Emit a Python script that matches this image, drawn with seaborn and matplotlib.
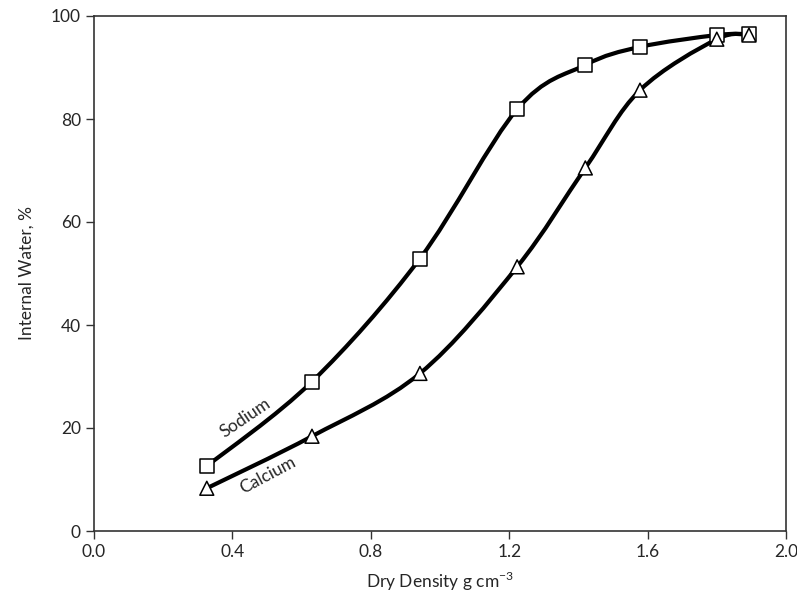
import numpy as np
import pandas as pd
import matplotlib
matplotlib.use("Agg")
import matplotlib.pyplot as plt
from matplotlib.path import Path
from matplotlib.patches import PathPatch
import seaborn as sns

density = [0.326, 0.63, 0.942, 1.223, 1.42, 1.578, 1.80, 1.893]
sodium = [12.6, 29.0, 52.9, 81.9, 90.5, 94.0, 96.3, 96.5]
calcium = [8.3, 18.4, 30.6, 51.3, 70.5, 85.6, 95.5, 96.3]
x_ticks = [0.0, 0.4, 0.8, 1.2, 1.6, 2.0]
y_ticks = [0, 20, 40, 60, 80, 100]

sns.set_style("ticks")
plt.rcParams['font.family'] = ['Lato', 'DejaVu Sans']
plt.rcParams['mathtext.fontset'] = 'custom'
plt.rcParams['mathtext.rm'] = 'Lato'

fig = plt.figure(figsize=(7.97, 6.0), dpi=100)
ax = fig.add_axes([94/797, 1-531/600, (786-94)/797, (531-16)/600])

def smooth_path(xs, ys, sx=2.0, sy=100.0):
    # Catmull-Rom converted to cubic Bezier in normalised space
    P = np.column_stack([np.asarray(xs)/sx, np.asarray(ys)/sy])
    n = len(P)
    verts = [tuple(P[0])]
    codes = [Path.MOVETO]
    T = np.zeros_like(P)
    for i in range(n):
        a = P[max(i-1, 0)]
        b = P[min(i+1, n-1)]
        T[i] = (b - a) / 2.0
    for i in range(n-1):
        c1 = P[i] + T[i]/3.0
        c2 = P[i+1] - T[i+1]/3.0
        verts += [tuple(c1), tuple(c2), tuple(P[i+1])]
        codes += [Path.CURVE4]*3
    V = np.array(verts)
    V[:, 0] *= sx
    V[:, 1] *= sy
    return Path(V, codes)

df = pd.DataFrame({"density": density * 2,
                   "water": sodium + calcium,
                   "ion": ["Sodium"]*len(density) + ["Calcium"]*len(density)})

for ys in (sodium, calcium):
    ax.add_patch(PathPatch(smooth_path(density, ys), facecolor='none',
                           edgecolor='black', lw=3.0, zorder=2, capstyle='butt'))

sns.scatterplot(data=df, x="density", y="water", style="ion",
                markers={"Sodium": "s", "Calcium": "^"}, s=100,
                color="white", edgecolor="black", linewidth=1.1,
                legend=False, zorder=3, ax=ax)

ax.set_xlim(0, 2.0)
ax.set_ylim(0, 100)
ax.set_xticks(x_ticks)
ax.set_xticklabels([f"{v:.1f}" for v in x_ticks])
ax.set_yticks(y_ticks)
ax.set_yticklabels([str(v) for v in y_ticks])
ax.tick_params(direction='out', length=6, width=1, labelsize=12.5, color='#333333')
for s in ax.spines.values():
    s.set_visible(True)
    s.set_color('#333333')
    s.set_linewidth(1.2)

ax.set_xlabel(r"Dry Density g cm$^{-3}$", fontsize=12.5, labelpad=7)
ax.set_ylabel("Internal Water, %", fontsize=12.5, labelpad=12)

ax.text(0.436, 21.9, "Sodium", rotation=34, ha='center', va='center',
        rotation_mode='anchor', fontsize=12.5)
ax.text(0.503, 10.9, "Calcium", rotation=28, ha='center', va='center',
        rotation_mode='anchor', fontsize=12.5)

fig.savefig("out.png", dpi=100)
